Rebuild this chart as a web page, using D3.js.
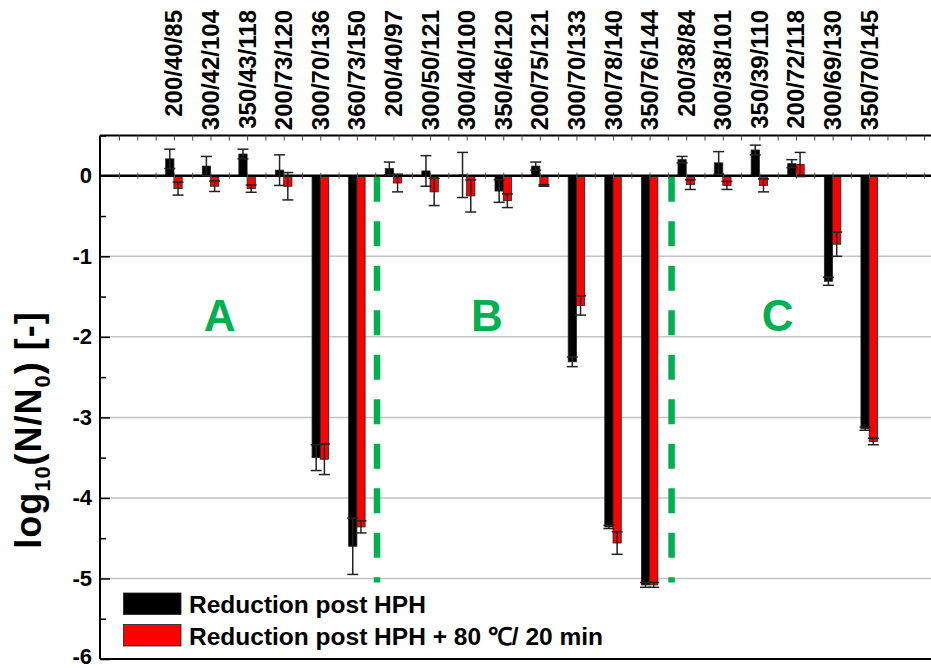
<!DOCTYPE html>
<html>
<head>
<meta charset="utf-8">
<script src="https://cdn.jsdelivr.net/npm/d3@7"></script>
<style>
  html, body { margin: 0; padding: 0; background: #fff; }
  svg { display: block; font-family: "Liberation Sans", Arial, sans-serif; }
</style>
</head>
<body>
<svg id="chart" width="931" height="668"></svg>
<script>
// Treatment conditions (pressure / inlet T / outlet T)
const labels = ["200/40/85","300/42/104","350/43/118","200/73/120","300/70/136","360/73/150",
  "200/40/97","300/50/121","300/40/100","350/46/120","200/75/121","300/70/133","300/78/140","350/76/144",
  "200/38/84","300/38/101","350/39/110","200/72/118","300/69/130","350/70/145"];

// log10(N/N0) after HPH and its standard deviation
const hph    = [0.21, 0.12, 0.27, 0.07, -3.50, -4.60, 0.09, 0.06, 0.01, -0.19, 0.12, -2.31, -4.36, -5.08, 0.20, 0.16, 0.32, 0.15, -1.31, -3.14];
const hphErr = [0.12, 0.12, 0.06, 0.19, 0.16, 0.35, 0.08, 0.19, 0.28, 0.14, 0.05, 0.06, 0.02, 0.03, 0.04, 0.14, 0.06, 0.05, 0.05, 0.02];

// log10(N/N0) after HPH + 80 °C / 20 min
const heat    = [-0.16, -0.13, -0.16, -0.13, -3.52, -4.36, -0.09, -0.20, -0.25, -0.31, -0.12, -1.61, -4.56, -5.08, -0.11, -0.12, -0.12, 0.14, -0.85, -3.30];
const heatErr = [0.08, 0.065, 0.045, 0.17, 0.19, 0.075, 0.11, 0.17, 0.20, 0.085, 0.01, 0.12, 0.14, 0.03, 0.06, 0.05, 0.08, 0.15, 0.15, 0.04];

// Group letters and separators
const groups = [{name: "A", at: 1.25}, {name: "B", at: 8.55}, {name: "C", at: 16.5}];
const dividers = [5.55, 13.6];
const dividerBottom = -5.05;

const yTicks = [0, -1, -2, -3, -4, -5, -6];
const legendItems = ["Reduction post HPH", "Reduction post HPH + 80 \u2103/ 20 min"];
const colors = ["#000000", "#ff0000"];

const W = 931, H = 668;
const padLeft = 100, padTop = 135.5, padBottom = 659;
const svg = d3.select("#chart");

const x = d3.scaleLinear().domain([-2.02, 20.69]).range([padLeft, W]);
const y = d3.scaleLinear().domain([-6, 0.5]).range([padBottom, padTop]);
const barW = x(0.225) - x(0);
const green = "#00b050";

// gridlines
svg.append("g").selectAll("line").data(yTicks.filter(v => v < 0 && v > -6)).join("line")
  .attr("x1", padLeft).attr("x2", W).attr("y1", d => y(d)).attr("y2", d => y(d))
  .attr("stroke", "#c4c4c4").attr("stroke-width", 1.5);

// group letters
svg.append("g").selectAll("text").data(groups).join("text")
  .attr("x", d => x(d.at)).attr("y", 331)
  .attr("text-anchor", "middle").attr("font-size", 44).attr("font-weight", "bold")
  .attr("fill", green).text(d => d.name);

// bars
const idx = d3.range(labels.length);
const series = [
  {vals: hph, err: hphErr, off: -1, color: colors[0]},
  {vals: heat, err: heatErr, off: 0, color: colors[1]}
];
series.forEach(s => {
  svg.append("g").selectAll("rect").data(idx).join("rect")
    .attr("x", i => x(i) + s.off * barW)
    .attr("width", barW)
    .attr("y", i => y(Math.max(0, s.vals[i])))
    .attr("height", i => Math.abs(y(s.vals[i]) - y(0)))
    .attr("fill", s.color).attr("stroke", "#222").attr("stroke-width", 0.8);
});

// zero line
svg.append("line").attr("x1", padLeft).attr("x2", W).attr("y1", y(0)).attr("y2", y(0))
  .attr("stroke", "#000").attr("stroke-width", 2.5);
svg.append("g").attr("transform", `translate(0,${y(0)})`)
  .call(d3.axisBottom(x).tickValues(d3.range(-1.5, 20.6, 0.5)).tickSize(3).tickFormat(""))
  .call(g => g.select(".domain").remove())
  .call(g => g.selectAll("line").attr("stroke", "#555").attr("y1", -3));

// error bars
const cap = 5.5;
series.forEach(s => {
  const g = svg.append("g").attr("stroke", "#222").attr("stroke-width", 1.5).attr("fill", "none");
  idx.forEach(i => {
    const cx = x(i) + s.off * barW + barW / 2;
    const y1 = y(s.vals[i] + s.err[i]), y2 = y(s.vals[i] - s.err[i]);
    g.append("line").attr("x1", cx).attr("x2", cx).attr("y1", y1).attr("y2", y2);
    g.append("line").attr("x1", cx - cap).attr("x2", cx + cap).attr("y1", y1).attr("y2", y1);
    g.append("line").attr("x1", cx - cap).attr("x2", cx + cap).attr("y1", y2).attr("y2", y2);
  });
});

// dashed separators
svg.append("g").selectAll("line").data(dividers).join("line")
  .attr("x1", d => x(d)).attr("x2", d => x(d))
  .attr("y1", y(0) + 1).attr("y2", y(dividerBottom))
  .attr("stroke", green).attr("stroke-width", 6.5).attr("stroke-dasharray", "25,19.5");

// frame: top axis with inner ticks
svg.append("g").attr("transform", `translate(0,${padTop})`)
  .call(d3.axisTop(x).tickValues(d3.range(-1.5, 20.6, 0.5)).tickSize(-5).tickFormat(""))
  .call(g => g.select(".domain").attr("stroke-width", 2).attr("d", `M${padLeft},0H${W}`))
  .call(g => g.selectAll(".tick line").attr("stroke", "#444"));
svg.append("line").attr("x1", padLeft).attr("x2", W).attr("y1", padBottom).attr("y2", padBottom)
  .attr("stroke", "#000").attr("stroke-width", 2);

// left axis
svg.append("g").attr("transform", `translate(${padLeft},0)`)
  .call(d3.axisLeft(y).tickValues(d3.range(-5.5, 0.6, 1)).tickSize(-6).tickFormat(""))
  .call(g => g.select(".domain").remove())
  .call(g => g.selectAll("line").attr("stroke-width", 1.5));
svg.append("g").attr("transform", `translate(${padLeft},0)`)
  .call(d3.axisLeft(y).tickValues(yTicks).tickSize(-10).tickPadding(8).tickFormat(d => String(d)))
  .call(g => g.select(".domain").attr("stroke-width", 2).attr("d", `M0,${padTop}V${padBottom}`))
  .call(g => g.selectAll("line").attr("stroke-width", 1.5))
  .call(g => g.selectAll("text").attr("font-size", 22).attr("font-weight", "bold")
      .attr("fill", "#000").attr("font-family", "Liberation Sans, Arial, sans-serif"))
  .call(g => g.selectAll("text").filter(d => d === -6).attr("y", -3));

// category labels on top
svg.append("g").selectAll("text").data(idx).join("text")
  .attr("transform", i => `translate(${x(i) + 8.5},10) rotate(-90)`)
  .attr("text-anchor", "end").attr("font-size", 24).attr("font-weight", "bold")
  .text(i => labels[i]);

// y-axis title
const title = svg.append("text")
  .attr("transform", "translate(41,430) rotate(-90)")
  .attr("text-anchor", "middle").attr("font-size", 36).attr("font-weight", "bold")
  .attr("letter-spacing", 1);
title.append("tspan").text("log");
title.append("tspan").attr("font-size", 22).attr("dy", 9).text("10");
title.append("tspan").attr("dy", -9).text("(N/N");
title.append("tspan").attr("font-size", 22).attr("dy", 9).text("0");
title.append("tspan").attr("dy", -9).text(") [-]");

// legend
const leg = svg.append("g");
legendItems.forEach((t, k) => {
  const yy = 593 + k * 31.5;
  leg.append("rect").attr("x", 123.5).attr("y", yy).attr("width", 57.5).attr("height", 21.5)
    .attr("fill", colors[k]).attr("stroke", "#222").attr("stroke-width", 0.8);
  leg.append("text").attr("x", 189).attr("y", yy + 20).attr("font-size", 24.5)
    .attr("font-weight", "bold").text(t);
});
</script>
</body>
</html>
